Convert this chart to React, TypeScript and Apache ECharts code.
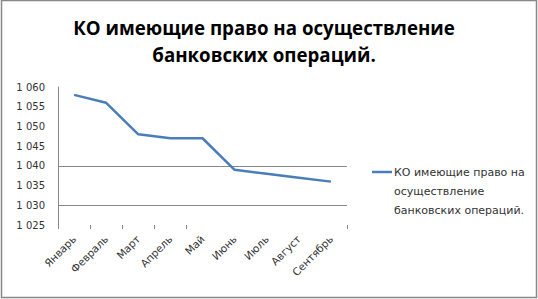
import React, { useEffect, useRef } from "react";
import * as echarts from "echarts";

const months = ["Январь", "Февраль", "Март", "Апрель", "Май", "Июнь", "Июль", "Август", "Сентябрь"];
const values = [1058, 1056, 1048, 1047, 1047, 1039, 1038, 1037, 1036];
const seriesName = "КО имеющие право на осуществление банковских операций.";
const titleText = "КО имеющие право на осуществление\nбанковских операций.";
const legendText = "КО имеющие право на\nосуществление\nбанковских операций.";
const yMin = 1025;
const yMax = 1060;
const yStep = 5;

const LINE_COLOR = "#4A7EBB";
const AXIS_FONT = "DejaVu Sans";

export default function App() {
  const ref = useRef<HTMLDivElement>(null);
  useEffect(() => {
    if (!ref.current) return;
    const chart = echarts.init(ref.current, null, { renderer: "svg" });
    const none = "rgba(0,0,0,0)";
    chart.setOption({
      animation: false,
      backgroundColor: "#fff",
      title: {
        text: titleText,
        left: 259,
        textAlign: "center",
        top: 9,
        textStyle: {
          fontFamily: "Open Sans",
          fontSize: 18.7,
          fontWeight: "bold",
          lineHeight: 27,
          color: "#000",
        },
      },
      grid: { left: 58, right: 191, top: 87, bottom: 74, containLabel: false },
      xAxis: {
        type: "category",
        data: months,
        boundaryGap: true,
        axisLine: { show: false },
        axisTick: {
          show: true,
          length: 4,
          interval: (index: number) => index <= 4,
          lineStyle: { color: "#888" },
        },
        axisLabel: {
          rotate: 45,
          interval: 0,
          margin: 12,
          fontFamily: AXIS_FONT,
          fontSize: 10.5,
          color: "#333",
        },
        splitLine: { show: false },
      },
      yAxis: {
        type: "value",
        min: yMin,
        max: yMax,
        interval: yStep,
        axisLine: { show: true, lineStyle: { color: "#888" } },
        axisTick: { show: false },
        axisLabel: {
          margin: 13,
          fontFamily: AXIS_FONT,
          fontSize: 10,
          color: "#333",
          formatter: (v: number) => String(v).replace(/\B(?=(\d{3})+(?!\d))/g, " "),
        },
        splitLine: {
          show: true,
          lineStyle: {
            color: [none, "#888", none, "#888", none, none, none, none],
            width: 1,
          },
        },
      },
      series: [
        {
          name: seriesName,
          type: "line",
          data: values,
          symbol: "none",
          lineStyle: { color: LINE_COLOR, width: 2.5 },
          itemStyle: { color: LINE_COLOR },
        },
      ],
      graphic: [
        {
          type: "rect",
          shape: { x: 1.5, y: 0.5, width: 535, height: 297 },
          style: { fill: "none", stroke: "#888", lineWidth: 1.5 },
          silent: true,
        },
        {
          type: "line",
          shape: { x1: 372, y1: 172, x2: 392, y2: 172 },
          style: { stroke: LINE_COLOR, lineWidth: 2.5 },
        },
        {
          type: "text",
          x: 394,
          y: 162.5,
          style: {
            text: legendText,
            fontFamily: AXIS_FONT,
            fontSize: 11,
            lineHeight: 19,
            fill: "#333",
            verticalAlign: "top",
            align: "left",
          },
        },
      ],
    });
    return () => chart.dispose();
  }, []);
  return <div ref={ref} style={{ position: "fixed", left: 0, top: 0, width: 538, height: 299 }} />;
}
